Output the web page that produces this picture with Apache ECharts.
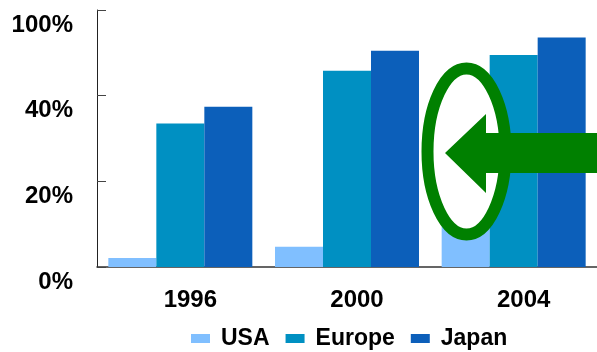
<!DOCTYPE html>
<html lang="en">

<head>
    <meta charset="UTF-8">
    <style>
        html, body { margin: 0; padding: 0; background: #fff; }
        #main { width: 597px; height: 352px; }
    </style>
    <title>Chart</title>
</head>

<body>
    <div id="main"></div>
    <script src="https://cdn.jsdelivr.net/npm/echarts@6/dist/echarts.min.js"></script>
    <script>
        // data
        var years = ['1996', '2000', '2004'];
        var usa = [2.1, 4.7, 9.5];
        var europe = [33.5, 45.8, 49.5];
        var japan = [37.4, 50.5, 53.6];
        // tick labels as printed (the top one says 100%)
        var yTickLabels = ['0%', '20%', '40%', '100%'];

        var font = 'Liberation Sans, Arial, sans-serif';
        var myChart = echarts.init(document.getElementById('main'));

        var option = {
            animation: false,
            grid: { left: 97, right: 0, top: 10, bottom: 85 },
            legend: {
                data: ['USA', 'Europe', 'Japan'],
                left: 186,
                top: 322,
                itemWidth: 19,
                itemHeight: 9,
                itemGap: 16,
                icon: 'rect',
                textStyle: {
                    fontFamily: font,
                    fontSize: 23,
                    fontWeight: 'bold',
                    color: '#000',
                    padding: [21, 0, 0, 6]
                }
            },
            xAxis: {
                type: 'category',
                data: years,
                axisLine: { lineStyle: { color: '#333', width: 1.5 } },
                axisTick: { show: false },
                axisLabel: {
                    margin: 21,
                    color: '#000',
                    fontFamily: font,
                    fontSize: 24,
                    fontWeight: 'bold',
                    padding: [0, 0, 0, 20]
                }
            },
            yAxis: {
                type: 'value',
                min: 0,
                max: 60,
                interval: 20,
                splitLine: { show: false },
                axisLine: { show: true, lineStyle: { color: '#222' } },
                axisTick: { show: true, inside: true, length: 9, lineStyle: { color: '#444' } },
                axisLabel: {
                    margin: 24,
                    color: '#000',
                    fontFamily: font,
                    fontSize: 24,
                    fontWeight: 'bold',
                    verticalAlign: 'top',
                    lineHeight: 24,
                    padding: [3, 0, 0, 0],
                    formatter: function (v) {
                        return yTickLabels[Math.round(v / 20)];
                    }
                }
            },
            series: [
                { name: 'USA', type: 'bar', data: usa, barWidth: 48, barGap: '0%', itemStyle: { color: '#80bfff' } },
                { name: 'Europe', type: 'bar', data: europe, barWidth: 48, barGap: '0%', itemStyle: { color: '#0090c2' } },
                { name: 'Japan', type: 'bar', data: japan, barWidth: 48, barGap: '0%', itemStyle: { color: '#0c5fba' } }
            ],
            // green annotation: ring and arrow
            graphic: [
                {
                    type: 'ellipse',
                    shape: { cx: 466.5, cy: 151.5, rx: 39, ry: 83 },
                    style: { fill: '#fff', stroke: '#008000', lineWidth: 12 },
                    z: 100
                },
                {
                    type: 'polygon',
                    shape: {
                        points: [[445, 153], [486, 114], [486, 133], [597, 133], [597, 173], [486, 173], [486, 193]]
                    },
                    style: { fill: '#008000' },
                    z: 101
                }
            ]
        };

        myChart.setOption(option);
    </script>
</body>

</html>
